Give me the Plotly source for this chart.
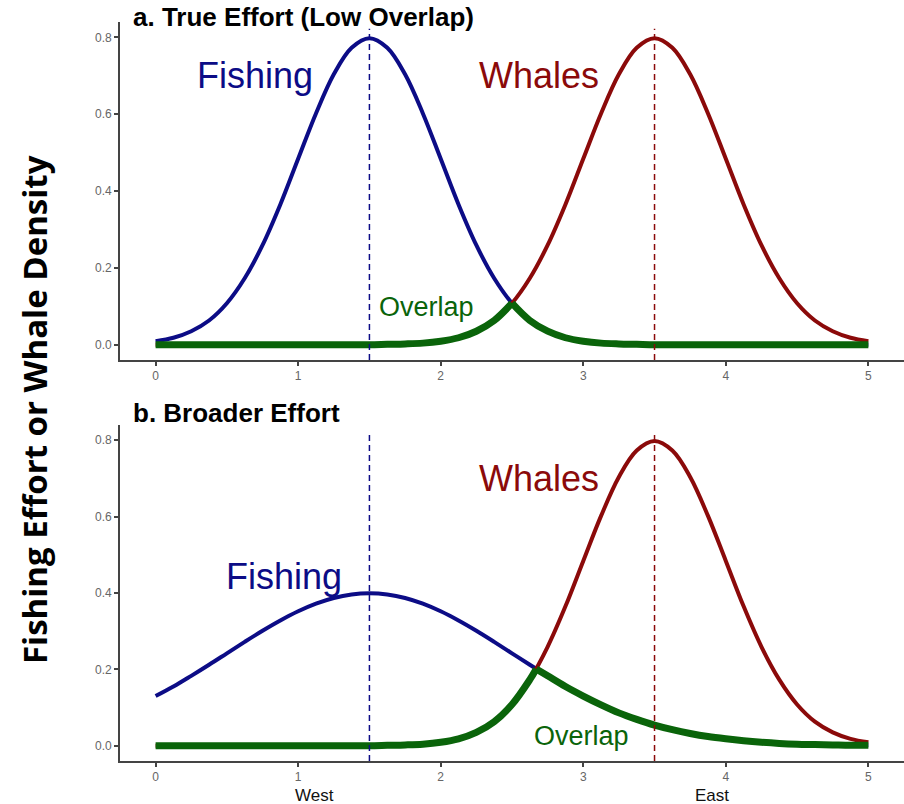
import plotly.graph_objects as go

# x grid (West -> East)
x_grid = [i * 0.125 for i in range(41)]

# Panel a: true effort
fishing_a = [0.009, 0.018, 0.035, 0.063, 0.108, 0.173, 0.259, 0.365, 0.484, 0.602,
             0.704, 0.773, 0.798, 0.773, 0.704, 0.602, 0.484, 0.365, 0.259, 0.173,
             0.108, 0.063, 0.035, 0.018, 0.009, 0.004, 0.002, 0.001, 0.0, 0.0,
             0.0, 0.0, 0.0, 0.0, 0.0, 0.0, 0.0, 0.0, 0.0, 0.0, 0.0]
whales = [0.0, 0.0, 0.0, 0.0, 0.0, 0.0, 0.0, 0.0, 0.0, 0.0,
          0.0, 0.0, 0.0, 0.001, 0.002, 0.004, 0.009, 0.018, 0.035, 0.063,
          0.108, 0.173, 0.259, 0.365, 0.484, 0.602, 0.704, 0.773, 0.798, 0.773,
          0.704, 0.602, 0.484, 0.365, 0.259, 0.173, 0.108, 0.063, 0.035, 0.018, 0.009]
overlap_a_x = x_grid
overlap_a = [0.0, 0.0, 0.0, 0.0, 0.0, 0.0, 0.0, 0.0, 0.0, 0.0,
             0.0, 0.0, 0.0, 0.001, 0.002, 0.004, 0.009, 0.018, 0.035, 0.063,
             0.108, 0.063, 0.035, 0.018, 0.009, 0.004, 0.002, 0.001, 0.0, 0.0,
             0.0, 0.0, 0.0, 0.0, 0.0, 0.0, 0.0, 0.0, 0.0, 0.0, 0.0]

# Panel b: broader effort
fishing_b = [0.130, 0.155, 0.183, 0.212, 0.242, 0.272, 0.301, 0.328, 0.352, 0.372,
             0.387, 0.396, 0.399, 0.396, 0.387, 0.372, 0.352, 0.328, 0.301, 0.272,
             0.242, 0.212, 0.183, 0.155, 0.130, 0.107, 0.086, 0.069, 0.054, 0.042,
             0.032, 0.024, 0.018, 0.013, 0.009, 0.006, 0.004, 0.003, 0.002, 0.001, 0.001]
overlap_b_x = x_grid[:22] + [2.67] + x_grid[22:]
overlap_b = [0.0, 0.0, 0.0, 0.0, 0.0, 0.0, 0.0, 0.0, 0.0, 0.0,
             0.0, 0.0, 0.0, 0.001, 0.002, 0.004, 0.009, 0.018, 0.035, 0.063,
             0.108, 0.173, 0.201, 0.183, 0.155, 0.130, 0.107, 0.086, 0.069, 0.054,
             0.042, 0.032, 0.024, 0.018, 0.013, 0.009, 0.006, 0.004, 0.003, 0.002,
             0.001, 0.001]

fish_peak = 1.5
whale_peak = 3.5
x_ticks = [0, 1, 2, 3, 4, 5]
y_ticks = [0.0, 0.2, 0.4, 0.6, 0.8]

BLUE = "#0c0c86"
RED = "#8b0a0a"
GREEN = "#0a640a"

fig = go.Figure()

def split_peak(xs, ys):
    k = max(range(len(ys)), key=lambda i: ys[i])
    return (xs[:k + 1], ys[:k + 1]), (xs[k:], ys[k:])

for xa, ya, fish, ov_x, ov in [("x", "y", fishing_a, overlap_a_x, overlap_a),
                               ("x2", "y2", fishing_b, overlap_b_x, overlap_b)]:
    fig.add_trace(go.Scatter(x=x_grid, y=fish, mode="lines", xaxis=xa, yaxis=ya,
                             line=dict(color=BLUE, width=4, shape="spline"), showlegend=False))
    fig.add_trace(go.Scatter(x=x_grid, y=whales, mode="lines", xaxis=xa, yaxis=ya,
                             line=dict(color=RED, width=4, shape="spline"), showlegend=False))
    for (sx, sy) in split_peak(ov_x, ov):
        fig.add_trace(go.Scatter(x=sx, y=sy, mode="lines", xaxis=xa, yaxis=ya,
                                 line=dict(color=GREEN, width=7, shape="spline"), showlegend=False))
    for xv, col in [(fish_peak, BLUE), (whale_peak, RED)]:
        fig.add_shape(type="line", xref=xa, yref=ya + " domain", x0=xv, x1=xv, y0=0, y1=0.98,
                      line=dict(color=col, width=1.5, dash="6px,4px"))

tick_font = dict(family="Liberation Sans, Arial", size=12, color="#666666")
axis_common = dict(range=[-0.25, 5.25], showgrid=False, zeroline=False, showline=True,
                   linecolor="#444444", linewidth=1.5, ticks="outside", ticklen=4,
                   tickcolor="#444444", tickwidth=1.5, tickfont=tick_font)
yaxis_common = dict(range=[-0.04, 0.84], showgrid=False, zeroline=False, showline=True,
                    linecolor="#444444", linewidth=1.5, ticks="outside", ticklen=4,
                    tickcolor="#444444", tickwidth=1.5, tickvals=y_ticks,
                    ticktext=[f"{v:.1f}" for v in y_ticks], tickfont=tick_font)

fig.update_layout(
    width=904, height=804, margin=dict(l=0, r=0, t=0, b=0),
    plot_bgcolor="white", paper_bgcolor="white",
    xaxis=dict(axis_common, domain=[0.1327, 1.0], anchor="y", tickvals=x_ticks),
    yaxis=dict(yaxis_common, domain=[0.5522, 0.9726], anchor="x"),
    xaxis2=dict(axis_common, domain=[0.1327, 1.0], anchor="y2", tickvals=x_ticks),
    yaxis2=dict(yaxis_common, domain=[0.0535, 0.4714], anchor="x2"),
)

label_font = "Liberation Sans, Arial"
ann = [
    dict(text="Fishing", x=0.694, y=0.70, xref="x", yref="y", font=dict(color=BLUE, size=36, family=label_font)),
    dict(text="Whales", x=2.69, y=0.70, xref="x", yref="y", font=dict(color=RED, size=36, family=label_font)),
    dict(text="Overlap", x=1.90, y=0.097, xref="x", yref="y", font=dict(color=GREEN, size=27, family=label_font)),
    dict(text="Fishing", x=0.904, y=0.444, xref="x2", yref="y2", font=dict(color=BLUE, size=36, family=label_font)),
    dict(text="Whales", x=2.69, y=0.701, xref="x2", yref="y2", font=dict(color=RED, size=36, family=label_font)),
    dict(text="Overlap", x=2.99, y=0.025, xref="x2", yref="y2", font=dict(color=GREEN, size=27, family=label_font)),
    dict(text="West", x=1.114, y=(804 - 795) / 804, xref="x2", yref="paper", font=dict(color="#111111", size=17, family=label_font)),
    dict(text="East", x=3.90, y=(804 - 795) / 804, xref="x2", yref="paper", font=dict(color="#111111", size=17, family=label_font)),
    dict(text="<b>a. True Effort (Low Overlap)</b>", x=131 / 904, y=(804 - 17) / 804, xref="paper", yref="paper",
         xanchor="left", font=dict(color="black", size=26, family=label_font)),
    dict(text="<b>b. Broader Effort</b>", x=131 / 904, y=(804 - 413) / 804, xref="paper", yref="paper",
         xanchor="left", font=dict(color="black", size=26, family=label_font)),
    dict(text="<b>Fishing Effort or Whale Density</b>", x=35 / 904, y=(804 - 410) / 804, xref="paper", yref="paper",
         textangle=-90, font=dict(color="black", size=33, family="Open Sans")),
]
for a in ann:
    a.setdefault("xanchor", "center")
    a.setdefault("yanchor", "middle")
    a["showarrow"] = False
fig.update_layout(annotations=ann)

fig.write_html("out.html")
